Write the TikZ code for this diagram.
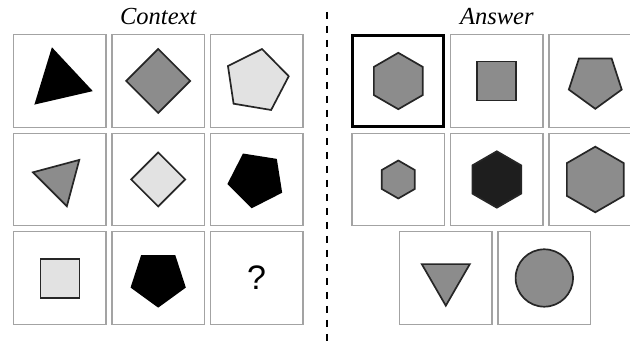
\documentclass[tikz,border=0pt]{standalone}
\usepackage{fontspec}
\setmainfont{Liberation Serif}
\newfontfamily\qfont{Liberation Sans}
\usetikzlibrary{positioning, shapes.geometric}

\definecolor{cellgray}{HTML}{A3A3A3}
\definecolor{midgray}{HTML}{8C8C8C}
\definecolor{palegray}{HTML}{E2E2E2}
\definecolor{edgegray}{HTML}{262626}
\definecolor{darkhex}{HTML}{1E1E1E}

\begin{document}
\begin{tikzpicture}[
            x=1pt, y=1pt,
            node distance=6pt and 6pt,
            cell/.style={rectangle, draw=cellgray, line width=1.2pt, minimum size=92.5pt, inner sep=0pt, outer sep=0pt},
            picked/.style={cell, draw=black, line width=3pt, minimum size=91pt},
            poly/.style={regular polygon, draw=edgegray, line width=1.7pt, inner sep=0pt, outer sep=0pt},
            solid black/.style={poly, fill=black, draw=black},
            title/.style={font=\fontsize{24.5}{24.5}\selectfont\itshape, anchor=base, inner sep=0pt},
            divider/.style={line width=2.2pt, dash pattern=on 7pt off 7pt}
        ]
        \useasboundingbox (0,0) rectangle (630,347);
        \clip (0,0) rectangle (630,347);

        % Context grid, 3 x 3
        \node[cell] (c11) at (59.7,266) {};
        \node[cell, right=of c11] (c12) {};
        \node[cell, right=of c12] (c13) {};
        \node[cell, below=of c11] (c21) {};
        \node[cell, right=of c21] (c22) {};
        \node[cell, right=of c22] (c23) {};
        \node[cell, below=of c21] (c31) {};
        \node[cell, right=of c31] (c32) {};
        \node[cell, right=of c32] (c33) {};

        % Answer grid, the last row is shifted by half a cell
        \node[picked] (a11) at (398.3,266) {};
        \node[cell, right=6.75pt of a11] (a12) {};
        \node[cell, right=of a12] (a13) {};
        \node[cell, below=6.75pt of a11] (a21) {};
        \node[cell, right=of a21] (a22) {};
        \node[cell, right=of a22] (a23) {};
        \node[cell, below=of a21, xshift=47.5pt] (a31) {};
        \node[cell, right=of a31] (a32) {};

        % Headings
        \node[title] (context) at ([yshift=10pt]c12.north) {Context};
        \node[title] (answer) at ([yshift=10pt]a12.north) {Answer};

        % Figures in the context cells
        \node[solid black, regular polygon sides=3, minimum size=65.8pt, rotate=13] (s11) at (c11) {};
        \node[poly, regular polygon sides=4, minimum size=64pt, rotate=45, fill=midgray] (s12) at (c12) {};
        \node[poly, regular polygon sides=5, minimum size=64.8pt, rotate=-9.5, fill=palegray] (s13) at (c13) {};
        \node[poly, regular polygon sides=3, minimum size=55.4pt, rotate=-45, fill=midgray] (s21) at (c21) {};
        \node[poly, regular polygon sides=4, minimum size=54pt, rotate=45, fill=palegray] (s22) at (c22) {};
        \node[solid black, regular polygon sides=5, minimum size=56.2pt, rotate=27] (s23) at ([xshift=-0.5pt]c23.center) {};
        \node[poly, regular polygon sides=4, minimum size=55.2pt, fill=palegray] (s31) at ([shift={(0.2pt,-0.6pt)}]c31.center) {};
        \node[solid black, regular polygon sides=5, minimum size=56pt, rotate=180] (s32) at ([yshift=-0.6pt]c32.center) {};
        \node[font=\qfont\fontsize{34}{34}\selectfont] (s33) at (c33) {?};

        % Figures in the answer cells
        \node[poly, regular polygon sides=6, minimum size=56.4pt, rotate=30, fill=midgray] (h11) at (a11) {};
        \node[poly, regular polygon sides=4, minimum size=55.2pt, fill=midgray] (h12) at (a12) {};
        \node[poly, regular polygon sides=5, minimum size=55.6pt, rotate=180, fill=midgray] (h13) at (a13) {};
        \node[poly, regular polygon sides=6, minimum size=38pt, rotate=30, fill=midgray] (h21) at (a21) {};
        \node[poly, regular polygon sides=6, minimum size=56.4pt, rotate=30, fill=darkhex] (h22) at (a22) {};
        \node[poly, regular polygon sides=6, minimum size=65.6pt, rotate=30, fill=midgray] (h23) at (a23) {};
        \node[poly, regular polygon sides=3, minimum size=55.4pt, rotate=180, fill=midgray] (h31) at (a31) {};
        \node[poly, circle, minimum size=57.4pt, fill=midgray] (h32) at (a32) {};

        % Separator between the two halves
        \coordinate (sep top) at (326.7,335);
        \coordinate (sep bottom) at (326.7,0);
        \draw[divider] (sep top) -- (sep bottom);
    \end{tikzpicture}
\end{document}
